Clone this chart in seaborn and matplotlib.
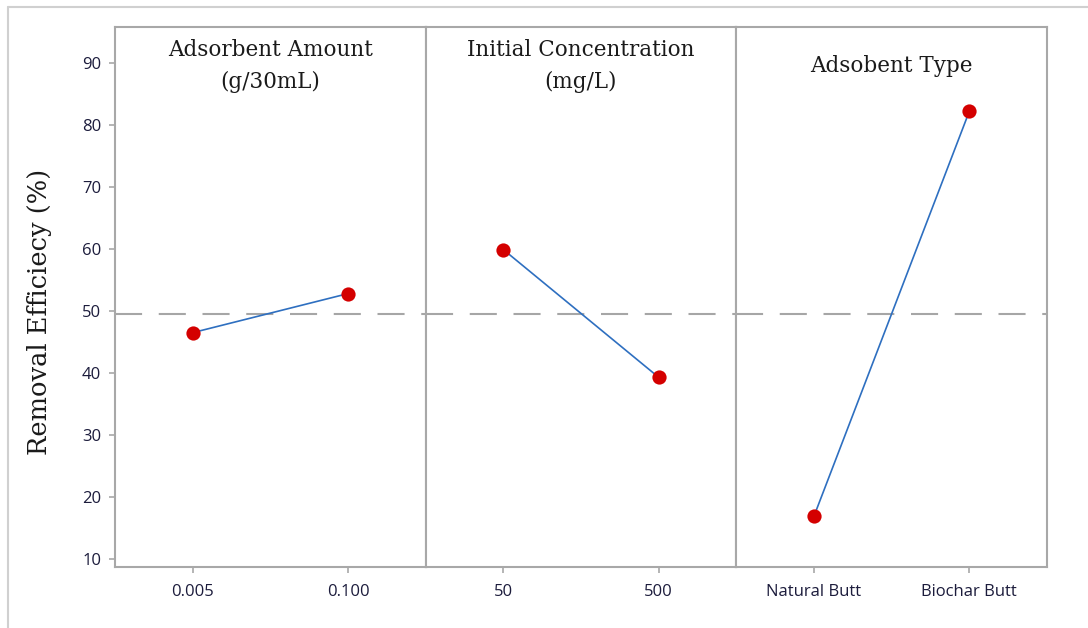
import matplotlib.pyplot as plt
import seaborn as sns
from matplotlib.lines import Line2D

factor_titles = ["Adsorbent Amount\n(g/30mL)", "Initial Concentration\n(mg/L)", "Adsobent Type"]
amount_levels = ["0.005", "0.100"]
amount_means = [46.5, 52.8]
conc_levels = ["50", "500"]
conc_means = [59.9, 39.3]
type_levels = ["Natural Butt", "Biochar Butt"]
type_means = [16.9, 82.2]
grand_mean = 49.5
y_ticks = [10, 20, 30, 40, 50, 60, 70, 80, 90]


def main() -> None:
    sns.set_theme(style="white")
    plt.rcParams["font.family"] = ["Open Sans", "DejaVu Sans"]

    fig, axes = plt.subplots(1, 3, figsize=(10.88, 6.28), dpi=100, sharey=True)
    fig.subplots_adjust(left=0.1057, right=0.9623, bottom=0.0971, top=0.957, wspace=0)

    panels = [(amount_levels, amount_means), (conc_levels, conc_means), (type_levels, type_means)]
    spine_c = "#a8a8a8"
    for ax, title, (levels, means) in zip(axes, factor_titles, panels):
        ax.axhline(grand_mean, color="#a6a6a6", lw=1.5, dashes=(13, 8), zorder=1)
        sns.lineplot(x=levels, y=means, ax=ax, color="#2e6fc0", lw=1.2, sort=False, zorder=2)
        sns.scatterplot(x=levels, y=means, ax=ax, color="#d40000", s=105, edgecolor="#d40000",
                        linewidth=0, zorder=3)
        ax.set_xlim(-0.5, 1.5)
        ax.set_ylim(8.7, 95.8)
        ax.text(0.5, 0.928, title, transform=ax.transAxes, ha="center", va="center",
                fontsize=15.5, family="DejaVu Serif", color="#1a1a1a", linespacing=1.6)
        for sp in ax.spines.values():
            sp.set_color(spine_c)
            sp.set_linewidth(1.5)
        ax.tick_params(axis="x", length=4, width=1.2, color=spine_c, labelsize=12,
                       labelcolor="#1c1c3c", pad=8, bottom=True)
        ax.tick_params(axis="y", length=4, width=1.2, color=spine_c, labelsize=12,
                       labelcolor="#1c1c3c", pad=6, left=True)
        ax.set_xlabel("")
        ax.grid(False)

    axes[0].set_yticks(y_ticks)
    axes[0].set_ylabel("Removal Efficiecy (%)", fontsize=18.5, family="DejaVu Serif",
                       color="#1a1a1a")
    axes[0].yaxis.set_label_coords(-0.203, 0.472)
    for ax in axes[1:]:
        ax.tick_params(axis="y", left=False)

    # light frame from the original screenshot
    fig.add_artist(Line2D([8 / 1088, 1], [1 - 7 / 628, 1 - 7 / 628], color="#d0d0d0", lw=1.5))
    fig.add_artist(Line2D([8 / 1088, 8 / 1088], [0, 1 - 7 / 628], color="#d0d0d0", lw=1.5))

    fig.savefig("out.png", dpi=100)
    plt.close(fig)


if __name__ == "__main__":
    main()
